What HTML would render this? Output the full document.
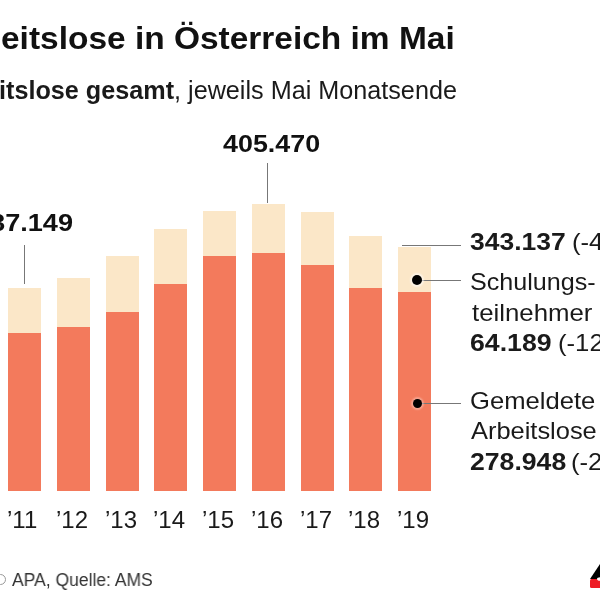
<!DOCTYPE html>
<html><head><meta charset="utf-8">
<style>
html,body{margin:0;padding:0;background:#fff;}
body{width:600px;height:600px;position:relative;overflow:hidden;font-family:"Liberation Sans",sans-serif;color:#111;}
.t{position:absolute;white-space:nowrap;line-height:1;transform-origin:0 0;will-change:transform;}
.b{font-weight:bold;}
.lt{position:absolute;width:33px;background:#FBE7C8;}
.dk{position:absolute;width:33px;background:#F37A5C;}
.ln{position:absolute;background:#777;}
.dot{position:absolute;width:10px;height:10px;border-radius:50%;background:#000;box-shadow:0 0 1.5px 2px rgba(255,255,255,0.55);}
.lg{font-size:24px;color:#1a1a1a;}
.yr{font-size:24px;top:507.5px;color:#1a1a1a;}
</style></head><body>
<div class="t b" style="left:0.75px;top:22px;font-size:32px;transform:scaleX(1.0455);">eitslose in Österreich im Mai</div>
<div class="t" style="left:-0.52px;top:78px;font-size:25px;color:#1a1a1a;transform:scaleX(1.0078);"><b>itslose gesamt</b>, jeweils Mai Monatsende</div>

<div class="lt" style="left:8.00px;top:287.5px;height:45.50px"></div><div class="dk" style="left:8.00px;top:333px;height:157.75px"></div>
<div class="lt" style="left:56.75px;top:277.5px;height:49.00px"></div><div class="dk" style="left:56.75px;top:326.5px;height:164.25px"></div>
<div class="lt" style="left:105.50px;top:256px;height:56.00px"></div><div class="dk" style="left:105.50px;top:312px;height:178.75px"></div>
<div class="lt" style="left:154.25px;top:228.75px;height:55.00px"></div><div class="dk" style="left:154.25px;top:283.75px;height:207.00px"></div>
<div class="lt" style="left:203.00px;top:210.75px;height:45.00px"></div><div class="dk" style="left:203.00px;top:255.75px;height:235.00px"></div>
<div class="lt" style="left:251.75px;top:203.75px;height:49.25px"></div><div class="dk" style="left:251.75px;top:253px;height:237.75px"></div>
<div class="lt" style="left:300.50px;top:212px;height:52.50px"></div><div class="dk" style="left:300.50px;top:264.5px;height:226.25px"></div>
<div class="lt" style="left:349.25px;top:236.25px;height:51.25px"></div><div class="dk" style="left:349.25px;top:287.5px;height:203.25px"></div>
<div class="lt" style="left:398.00px;top:247px;height:45.00px"></div><div class="dk" style="left:398.00px;top:292px;height:198.75px"></div>

<div class="ln" style="left:24.2px;top:245px;width:1px;height:39px;"></div>
<div class="ln" style="left:267px;top:163px;width:1px;height:40px;"></div>
<div class="ln" style="left:402px;top:245px;width:59px;height:1px;"></div>
<div class="ln" style="left:417px;top:280px;width:44px;height:1px;"></div>
<div class="ln" style="left:417px;top:403px;width:44px;height:1px;"></div>
<div class="dot" style="left:412.25px;top:275.25px;"></div>
<div class="dot" style="left:412.5px;top:398.5px;width:9px;height:9px;box-shadow:0 0 1.5px 2px rgba(255,255,255,0.3);"></div>

<div class="t b" style="left:-24.63px;top:211px;font-size:24px;transform:scaleX(1.1294);">287.149</div>
<div class="t b" style="left:222.5px;top:132px;font-size:24px;transform:scaleX(1.1192);">405.470</div>

<div class="t b lg" style="left:470.15px;top:229.5px;transform:scaleX(1.1029);">343.137</div>
<div class="t lg" style="left:571.61px;top:229.5px;transform:scaleX(1.07);">(-4,1%)</div>
<div class="t lg" style="left:470.2px;top:270px;transform:scaleX(1.047);">Schulungs-</div>
<div class="t lg" style="left:471.5px;top:300.5px;transform:scaleX(1.075);">teilnehmer</div>
<div class="t b lg" style="left:470.14px;top:331.25px;transform:scaleX(1.1111);">64.189</div>
<div class="t lg" style="left:557.86px;top:331.25px;transform:scaleX(1.07);">(-12,1%)</div>
<div class="t lg" style="left:469.93px;top:388.75px;transform:scaleX(1.0674);">Gemeldete</div>
<div class="t lg" style="left:471px;top:418.75px;transform:scaleX(1.0593);">Arbeitslose</div>
<div class="t b lg" style="left:470.14px;top:449.5px;transform:scaleX(1.1088);">278.948</div>
<div class="t lg" style="left:570.86px;top:449.5px;transform:scaleX(1.07);">(-2,1%)</div>

<div class="t yr" style="left:7.00px;">’11</div>
<div class="t yr" style="left:55.75px;">’12</div>
<div class="t yr" style="left:104.50px;">’13</div>
<div class="t yr" style="left:153.25px;">’14</div>
<div class="t yr" style="left:202.00px;">’15</div>
<div class="t yr" style="left:250.75px;">’16</div>
<div class="t yr" style="left:299.50px;">’17</div>
<div class="t yr" style="left:348.25px;">’18</div>
<div class="t yr" style="left:397.00px;">’19</div>

<div style="position:absolute;left:-5px;top:573.5px;width:9px;height:9px;border:1.5px solid #999;border-radius:50%;"></div>
<div class="t" style="left:12px;top:571px;font-size:18px;color:#333;transform:scaleX(0.9722);">APA, Quelle: AMS</div>

<svg style="position:absolute;left:580px;top:560px" width="20" height="30" viewBox="0 0 20 30">
<polygon points="10,19 20,4 20,19" fill="#000"/>
<rect x="10" y="19" width="12" height="9" rx="1.5" fill="#EE1C25"/>
<ellipse cx="20" cy="19" rx="3" ry="1.8" fill="#fff"/>
</svg>
</body></html>
